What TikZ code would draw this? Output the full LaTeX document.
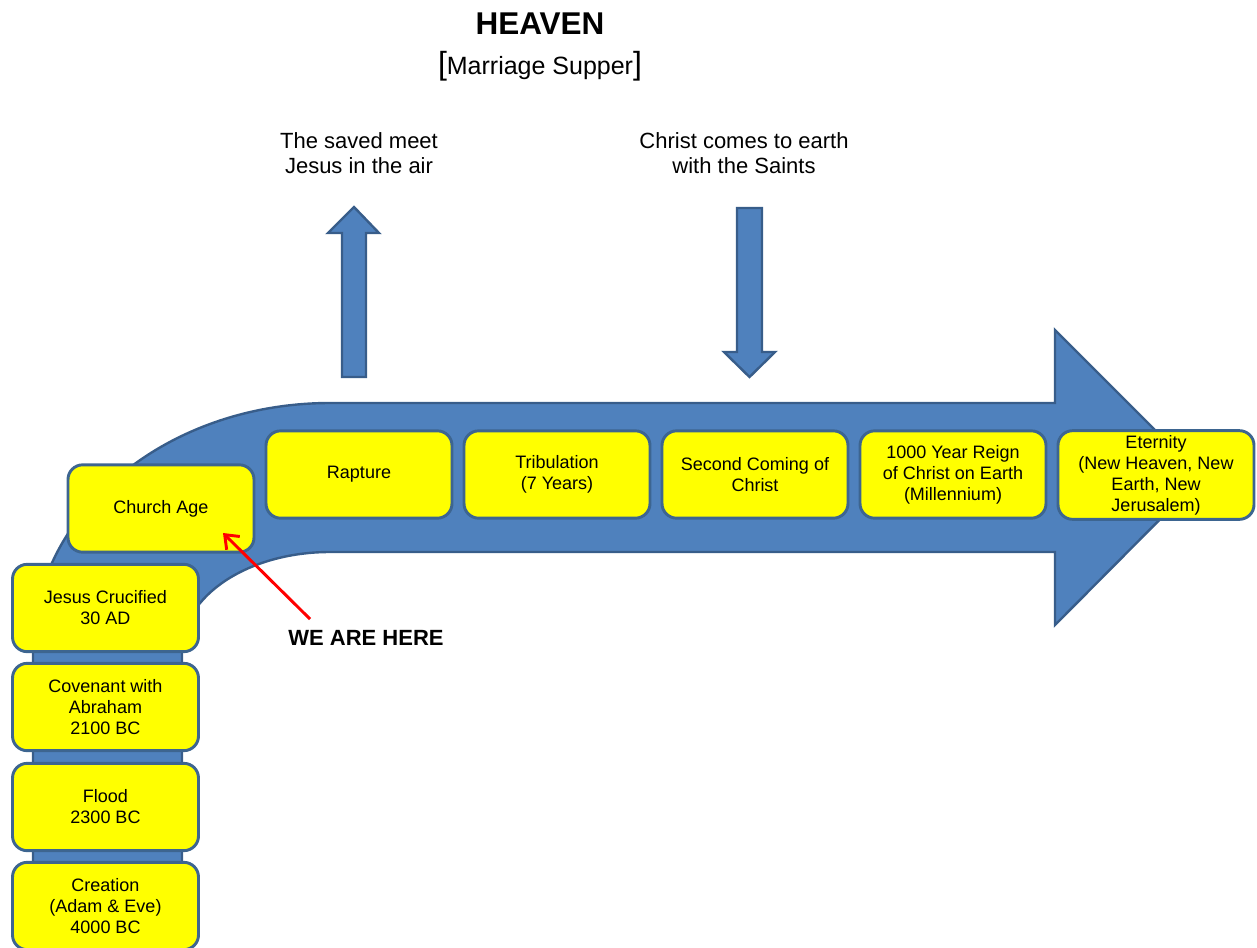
\documentclass[tikz,border=0pt]{standalone}
\usepackage{fontspec}
\setmainfont{Liberation Sans}
\usetikzlibrary{arrows.meta}
\definecolor{arrowblue}{HTML}{4F81BD}
\definecolor{arrowedge}{HTML}{385D8A}
\definecolor{boxedge}{HTML}{3D6590}
\definecolor{boxfill}{HTML}{FFFF00}
\tikzset{
  stage/.style={draw=boxedge, fill=boxfill, line width=2.2pt, rounded corners=11pt,
    minimum width=139.5pt, minimum height=65.5pt, inner sep=0pt, align=center,
    font=\fontsize{13.5}{15.75}\selectfont},
  bigshape/.style={fill=arrowblue, draw=arrowedge, line width=1.8pt, line join=miter},
  label/.style={align=center, font=\fontsize{16.5}{18.75}\selectfont},
}
\begin{document}
\begin{tikzpicture}[x=0.75pt, y=-0.75pt]
\useasboundingbox (0,0) rectangle (1257,947);
\clip (0,0) rectangle (1257,947);
% big bent arrow
\draw[bigshape] (33,980) -- (33,650)
  .. controls (33,513.6) and (166,403) .. (330,403)
  -- (1055,403) -- (1055,330) -- (1202,477) -- (1055,625) -- (1055,552)
  -- (330,552) .. controls (248,552) and (182,596) .. (182,650)
  -- (182,980) -- cycle;
% up arrow
\draw[bigshape] (342,377) -- (342,233) -- (328,233) -- (354,207) -- (379,233)
  -- (366,233) -- (366,377) -- cycle;
% down arrow
\draw[bigshape] (737,208) -- (762,208) -- (762,352) -- (775,352) -- (749.5,377)
  -- (724,352) -- (737,352) -- cycle;
% titles
\node (heaven) at (540,24) {\fontsize{23.6}{26}\selectfont\bfseries HEAVEN};
\node (supper) at (540,66) {\fontsize{24}{26}\selectfont[\fontsize{18.75}{22}\selectfont Marriage Supper\fontsize{24}{26}\selectfont]};
\node[label] (meet) at (359,153.5) {The saved meet\\Jesus in the air};
\node[label] (comes) at (744,153.5) {Christ comes to earth\\with the Saints};
% stages
\node[stage] (church) at (161,508.5) {Church Age};
\node[stage] (rapture) at (359,474.5) {Rapture};
\node[stage] (trib) at (557,474.5) {Tribulation\\(7 Years)};
\node[stage] (second) at (755,474.5) {Second Coming of\\Christ};
\node[stage] (reign) at (953,474.5) {1000 Year Reign\\of Christ on Earth\\(Millennium)};
\node[stage, minimum width=147pt, minimum height=66.5pt] (eternity) at (1156,475) {Eternity\\(New Heaven, New\\Earth, New\\Jerusalem)};
\node[stage] (cross) at (105.5,608) {Jesus Crucified\\30 AD};
\node[stage] (covenant) at (105.5,707) {Covenant with\\Abraham\\2100 BC};
\node[stage] (flood) at (105.5,807) {Flood\\2300 BC};
\node[stage] (creation) at (105.5,906) {Creation\\(Adam \& Eve)\\4000 BC};
% we are here
\node[font=\fontsize{16.5}{18.75}\selectfont\bfseries] (here) at (366,638) {WE ARE HERE};
\coordinate (hstart) at (310,619);
\coordinate (htip) at (223,533);
\draw[red, line width=2.2pt, -{Straight Barb[length=9pt,width=14pt,line width=2.2pt]}] (hstart) -- (htip);
\end{tikzpicture}
\end{document}
